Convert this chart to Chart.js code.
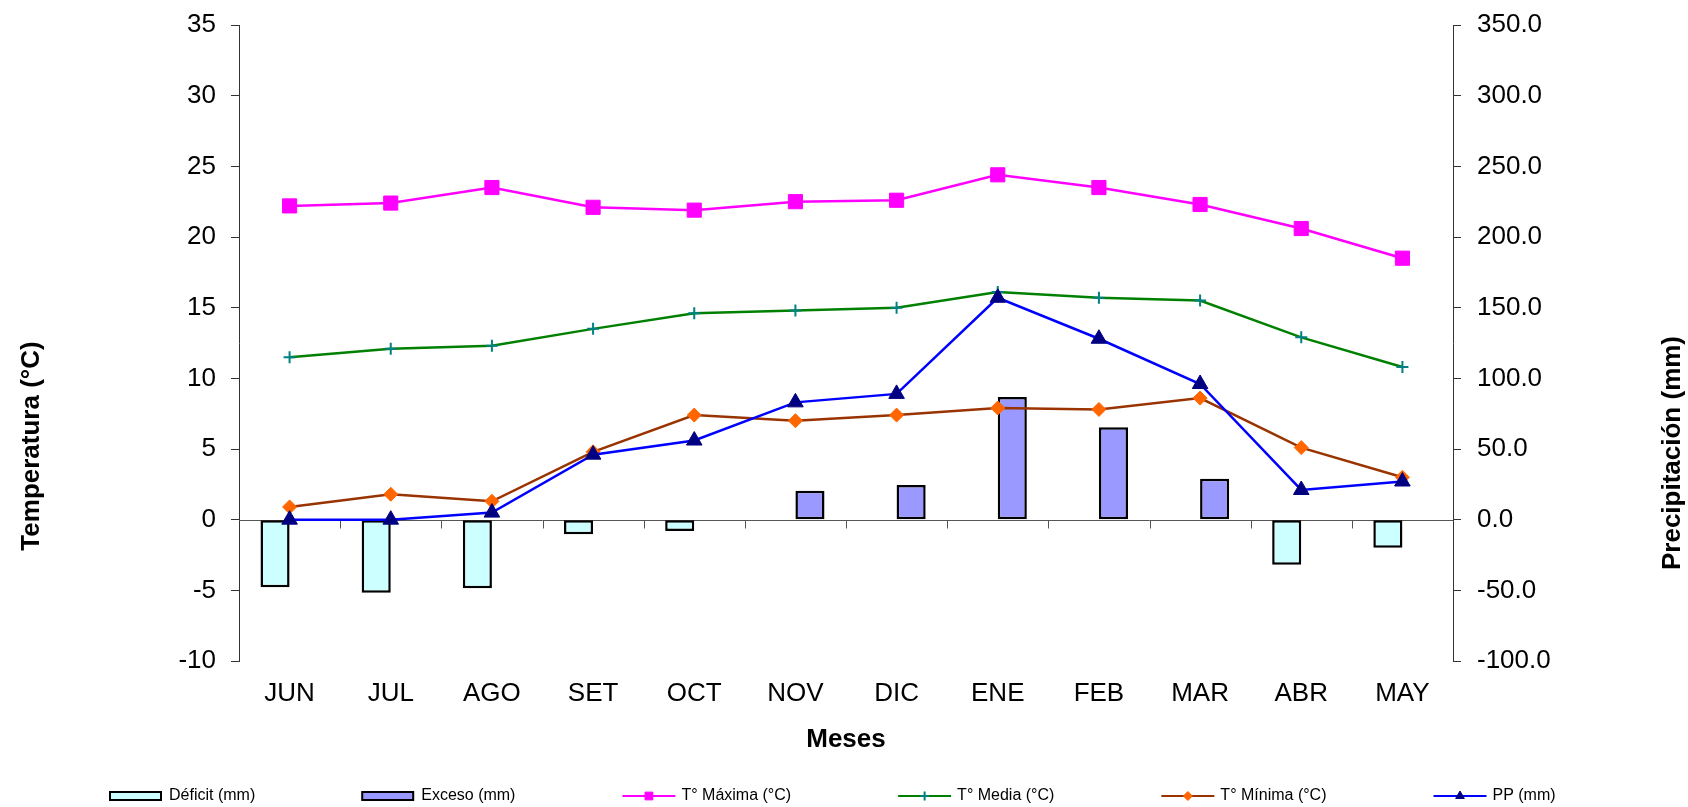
<!DOCTYPE html>
<html>
<head>
<meta charset="utf-8">
<script src="https://cdn.jsdelivr.net/npm/chart.js@4.4.1/dist/chart.umd.min.js"></script>
<style>
body { margin: 0; background: #fff; }
</style>
</head>
<body>
<canvas id="myChart" width="1688" height="807"></canvas>
<script>
let meses = ['JUN', 'JUL', 'AGO', 'SET', 'OCT', 'NOV', 'DIC', 'ENE', 'FEB', 'MAR', 'ABR', 'MAY']
let deficit = [-47.9, -51.7, -48.6, -10.4, -8.0, null, null, null, null, null, -31.9, -19.8]
let exceso = [null, null, null, null, null, 20.5, 24.5, 86.8, 65.4, 28.9, null, null]
let t_max = [22.2, 22.4, 23.5, 22.1, 21.9, 22.5, 22.6, 24.4, 23.5, 22.3, 20.6, 18.5]
let t_media = [11.5, 12.1, 12.3, 13.5, 14.6, 14.8, 15.0, 16.1, 15.7, 15.5, 12.9, 10.8]
let t_min = [0.9, 1.8, 1.3, 4.8, 7.4, 7.0, 7.4, 7.9, 7.8, 8.6, 5.1, 3.0]
let pp = [0, 0, 5.0, 46, 56, 83, 89, 157, 128, 96, 21, 27]

let temp_ticks = { min: -10, max: 35, step: 5 }
let pp_ticks = { min: -100, max: 350, step: 50 }

const FONT = "'Liberation Sans', Arial, sans-serif"
Chart.defaults.font.family = FONT
Chart.defaults.color = '#000'

// zero line with the category ticks (Excel draws the x axis at 0)
const zeroLine = {
    id: 'zeroLine',
    beforeDatasetsDraw(chart) {
        const ctx = chart.ctx
        const x = chart.scales.x
        const y0 = Math.round(chart.scales.y.getPixelForValue(0)) + 0.5
        const step = (x.right - x.left) / meses.length
        ctx.save()
        ctx.strokeStyle = '#555'
        ctx.lineWidth = 1
        ctx.beginPath()
        ctx.moveTo(chart.chartArea.left, y0)
        ctx.lineTo(chart.chartArea.right, y0)
        for (let i = 1; i < meses.length; i++) {
            const xi = Math.round(x.left + i * step) + 0.5
            ctx.moveTo(xi, y0)
            ctx.lineTo(xi, y0 + 8)
        }
        ctx.stroke()
        ctx.restore()
    }
}

// vertical axis titles + legend row
const extras = {
    id: 'extras',
    afterDraw(chart) {
        const ctx = chart.ctx
        ctx.save()
        ctx.fillStyle = '#000'
        ctx.font = 'bold 26px ' + FONT
        ctx.textAlign = 'center'
        ctx.textBaseline = 'middle'
        ctx.save()
        ctx.translate(32, 446)
        ctx.rotate(-Math.PI / 2)
        ctx.fillText('Temperatura (°C)', 0, 0)
        ctx.restore()
        ctx.save()
        ctx.translate(1673, 453)
        ctx.rotate(-Math.PI / 2)
        ctx.fillText('Precipitación (mm)', 0, 0)
        ctx.restore()

        ctx.font = '16px ' + FONT
        ctx.textAlign = 'left'
        let lx = 110
        let ly = 796
        chart.data.datasets.forEach(ds => {
            if (ds.type === 'bar') {
                ctx.fillStyle = ds.backgroundColor
                ctx.fillRect(lx, ly - 4, 51, 8)
                ctx.strokeStyle = '#000'
                ctx.lineWidth = 2
                ctx.strokeRect(lx, ly - 4, 51, 8)
            } else {
                ctx.strokeStyle = ds.borderColor
                ctx.lineWidth = 2
                ctx.beginPath()
                ctx.moveTo(lx, ly)
                ctx.lineTo(lx + 53, ly)
                ctx.stroke()
                ctx.fillStyle = ds.pointBackgroundColor
                ctx.strokeStyle = ds.pointBorderColor
                ctx.lineWidth = ds.pointStyle === 'cross' ? 2 : 1
                Chart.helpers.drawPoint(ctx, { pointStyle: ds.pointStyle, radius: ds.legendRadius, rotation: 0, borderWidth: ctx.lineWidth }, lx + 26.5, ly)
            }
            ctx.fillStyle = '#000'
            ctx.fillText(ds.label, lx + 59, ly)
            lx += 59 + ctx.measureText(ds.label).width + 107
        })
        ctx.restore()
    }
}

function lineSet(label, data, color, style, fill, border, radius, legendRadius, axis, order) {
    return {
        type: 'line', label: label, data: data, yAxisID: axis, order: order,
        borderColor: color, borderWidth: 2.5, tension: 0, fill: false,
        pointStyle: style, pointRadius: radius, pointBackgroundColor: fill,
        pointBorderColor: border, pointBorderWidth: style === 'cross' ? 2 : 1,
        legendRadius: legendRadius
    }
}

let ctx = document.getElementById('myChart').getContext('2d')
let myChart = new Chart(ctx, {
    type: 'bar',
    data: {
        labels: meses,
        datasets: [
            {
                type: 'bar', label: 'Déficit (mm)', data: deficit, yAxisID: 'y2', order: 10,
                backgroundColor: '#CCFFFF', borderColor: '#000', borderWidth: 2.5, borderSkipped: false,
                barPercentage: 1, categoryPercentage: 0.575
            },
            {
                type: 'bar', label: 'Exceso (mm)', data: exceso, yAxisID: 'y2', order: 10,
                backgroundColor: '#9999FF', borderColor: '#000', borderWidth: 2.5, borderSkipped: false,
                barPercentage: 1, categoryPercentage: 0.575
            },
            lineSet('T° Máxima (°C)', t_max, '#FF00FF', 'rect', '#FF00FF', '#FF00FF', 10, 5.5, 'y', 4),
            lineSet('T° Media (°C)', t_media, '#008000', 'cross', '#008080', '#008080', 6, 4.5, 'y', 3),
            lineSet('T° Mínima (°C)', t_min, '#993300', 'rectRot', '#FF6600', '#FF6600', 7, 4.5, 'y', 2),
            lineSet('PP (mm)', pp, '#0000FF', 'triangle', '#000080', '#000080', 9, 5, 'y2', 1)
        ]
    },
    options: {
        responsive: false,
        animation: false,
        layout: { padding: { top: 25, bottom: 52, left: 0, right: 0 } },
        plugins: {
            legend: { display: false },
            tooltip: { enabled: false }
        },
        scales: {
            x: {
                grid: { display: false },
                border: { display: false },
                ticks: { color: '#000', font: { size: 26 }, padding: 9 },
                title: {
                    display: true, text: 'Meses', color: '#000',
                    font: { size: 26, weight: 'bold' }, padding: { top: 0, bottom: 0 }
                },
                afterFit: function (scale) { scale.height = 94 }
            },
            y: {
                position: 'left',
                min: temp_ticks.min, max: temp_ticks.max,
                ticks: { stepSize: temp_ticks.step, color: '#000', font: { size: 26, lineHeight: 0.6 }, padding: 15 },
                grid: { drawOnChartArea: false, drawTicks: true, tickLength: 8, color: '#333' },
                border: { display: true, color: '#333', width: 1 },
                afterFit: function (scale) { scale.width = 239 }
            },
            y2: {
                position: 'right',
                min: pp_ticks.min, max: pp_ticks.max,
                ticks: {
                    stepSize: pp_ticks.step, color: '#000', font: { size: 26, lineHeight: 0.6 }, padding: 16,
                    callback: v => v.toFixed(1)
                },
                grid: { drawOnChartArea: false, drawTicks: true, tickLength: 8, color: '#333' },
                border: { display: true, color: '#333', width: 1 },
                afterFit: function (scale) { scale.width = 235 }
            }
        }
    },
    plugins: [zeroLine, extras]
})
</script>
</body>
</html>
